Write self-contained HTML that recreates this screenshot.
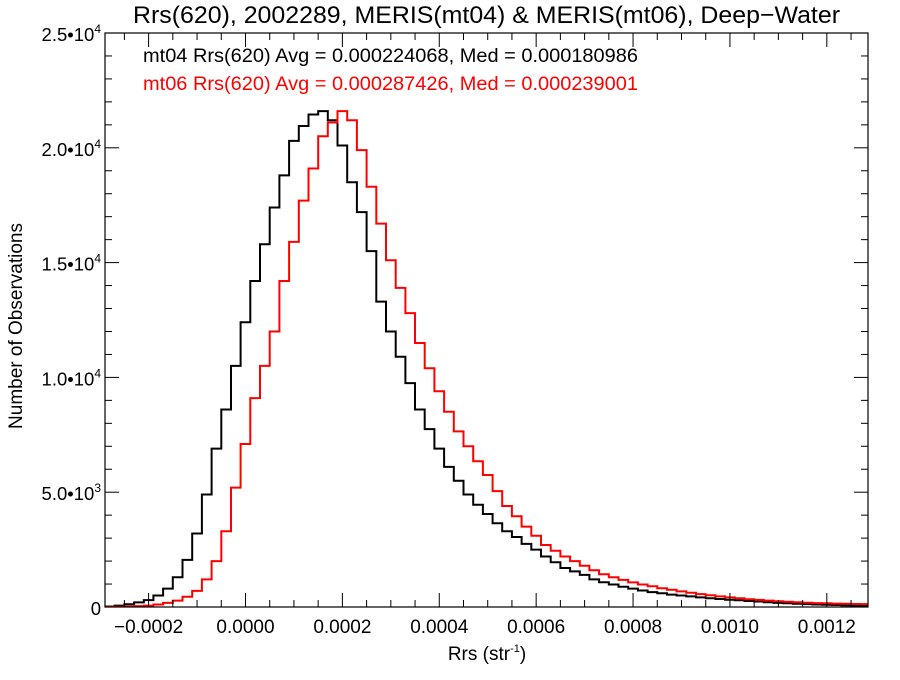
<!DOCTYPE html>
<html><head><meta charset="utf-8"><style>
body{margin:0;background:#fff;}
svg text{font-family:"Liberation Sans",sans-serif;}
</style></head><body>
<svg id="chart" width="900" height="675" xmlns="http://www.w3.org/2000/svg">
<defs><clipPath id="pc"><rect x="105" y="33" width="763" height="574"/></clipPath></defs>
<text x="133" y="23" font-size="24.5" textLength="707" lengthAdjust="spacingAndGlyphs">Rrs(620), 2002289, MERIS(mt04) &amp; MERIS(mt06), Deep−Water</text>
<g id="series" clip-path="url(#pc)"></g>
<rect x="105" y="33" width="763" height="574" fill="none" stroke="#000" stroke-width="1.2"/>
<g id="axes"></g>
<text x="143" y="62" font-size="19.5" fill="#000" textLength="495" lengthAdjust="spacingAndGlyphs">mt04 Rrs(620) Avg = 0.000224068, Med = 0.000180986</text>
<text x="143" y="90" font-size="19.5" fill="#ff0000" textLength="495" lengthAdjust="spacingAndGlyphs">mt06 Rrs(620) Avg = 0.000287426, Med = 0.000239001</text>
<text x="487" y="660" text-anchor="middle" font-size="19">Rrs (str<tspan font-size="11" dy="-8">-1</tspan><tspan dy="8">)</tspan></text>
<text transform="translate(22,326) rotate(-90)" text-anchor="middle" font-size="19">Number of Observations</text>
</svg>
<script>
const binStart = -0.00028;
const binStep = 0.00002;
const mt04Counts = [20,60,120,200,300,500,800,1300,2050,3200,4900,6900,8600,10500,12400,14200,15800,17400,18800,20300,20950,21450,21600,21200,20100,18500,17200,15500,13300,12000,10900,9750,8600,7750,6900,6100,5500,4900,4450,4050,3650,3300,3050,2750,2500,2200,1950,1700,1550,1400,1200,1080,980,880,800,720,650,600,540,500,460,420,380,350,320,290,260,240,210,180,160,140,125,110,95,85,70,60,50];
const mt06Counts = [5,10,20,40,60,110,180,280,450,700,1200,2000,3300,5200,7100,9100,10500,12000,14200,15900,17700,19100,20500,21100,21600,21200,19900,18300,16700,15100,13900,12800,11500,10400,9400,8500,7650,7000,6350,5750,5050,4400,3950,3500,3100,2700,2450,2200,2000,1800,1600,1430,1300,1180,1070,980,900,820,750,680,620,560,510,460,420,380,340,310,280,250,225,205,185,170,160,150,140,130,125];
const xTickValues = [-0.0002,0,0.0002,0.0004,0.0006,0.0008,0.0010,0.0012];
const xTickLabels = ["−0.0002","0.0000","0.0002","0.0004","0.0006","0.0008","0.0010","0.0012"];
const yTickValues = [0,5000,10000,15000,20000,25000];
const yTickMantissa = ["0","5.0","1.0","1.5","2.0","2.5"];
const yTickExp = ["","3","4","4","4","4"];

const NS="http://www.w3.org/2000/svg";
const X0=105,X1=868,Y0=607,Y1=33,XMIN=-0.00029,XMAX=0.001285,YMAX=25000;
const xs=v=>X0+(v-XMIN)/(XMAX-XMIN)*(X1-X0);
const ys=c=>Y0-c/YMAX*(Y0-Y1);
function mk(t,a){const e=document.createElementNS(NS,t);for(const k in a)e.setAttribute(k,a[k]);return e;}
const ser=document.getElementById('series');
function drawSeries(counts,color,name){
  let d='M'+X0+','+Y0;
  counts.forEach((c,i)=>{const c0=binStart+i*binStep;const l=xs(c0-binStep/2),r=xs(c0+binStep/2),y=ys(c);d+=' L'+l.toFixed(1)+','+y.toFixed(1)+' L'+r.toFixed(1)+','+y.toFixed(1);});
  const p=mk('path',{d:d,fill:'none',stroke:color,'stroke-width':2});
  
  
  ser.appendChild(p);
}
drawSeries(mt04Counts,'#000','mt04-histogram');
drawSeries(mt06Counts,'#ff0000','mt06-histogram');
const ax=document.getElementById('axes');
for(let k=-5;k<=25;k++){
  const v=k*0.00005;
  const x=xs(v);const major=(k%4===0);const L=major?14:7;
  ax.appendChild(mk('line',{x1:x,x2:x,y1:Y0,y2:Y0-L,stroke:'#000','stroke-width':1}));
  ax.appendChild(mk('line',{x1:x,x2:x,y1:Y1,y2:Y1+L,stroke:'#000','stroke-width':1}));
}
xTickValues.forEach((v,i)=>{
  const t=mk('text',{x:xs(v),y:633,'text-anchor':'middle','font-size':19});
  t.textContent=xTickLabels[i];
  
  
  ax.appendChild(t);
});
for(let c=1000;c<25000;c+=1000){
  const y=ys(c);const L=(c%5000===0)?14:7;
  ax.appendChild(mk('line',{x1:X0,x2:X0+L,y1:y,y2:y,stroke:'#000','stroke-width':1}));
  ax.appendChild(mk('line',{x1:X1,x2:X1-L,y1:y,y2:y,stroke:'#000','stroke-width':1}));
}
yTickValues.forEach((v,i)=>{
  const t=mk('text',{x:101,y:ys(v)+8,'text-anchor':'end','font-size':18.5});
  if(yTickExp[i]){
    t.textContent=yTickMantissa[i]+'•10';
    const s=mk('tspan',{'font-size':12,dy:-8});s.textContent=yTickExp[i];t.appendChild(s);
  } else t.textContent=yTickMantissa[i];
  
  
  ax.appendChild(t);
});
</script>
</body></html>
